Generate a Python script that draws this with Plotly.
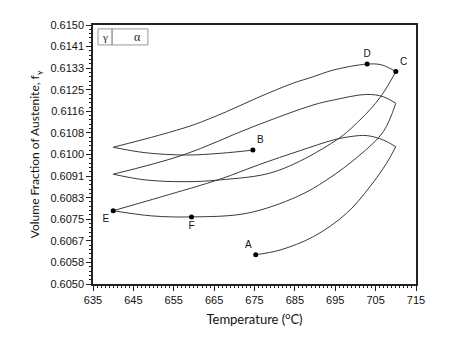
import plotly.graph_objects as go

# Branch data (temperature in C, volume fraction of austenite)
heat1_T = [675.3, 681.3, 689.6, 697.8, 703.6, 707.7, 710.0]
heat1_f = [0.60613, 0.60631, 0.60683, 0.60773, 0.60876, 0.60966, 0.61030]

cool1_T = [710.0, 706.9, 702.8, 698.7, 694.5, 686.3, 676.0, 666.5, 652.0, 640.0]
cool1_f = [0.61030, 0.61056, 0.61073, 0.61069, 0.61056, 0.61015, 0.60960, 0.60905, 0.60837, 0.60783]

heat2_T = [640.0, 649.5, 659.4, 673.1, 685.5, 692.9, 701.1, 706.9, 710.0]
heat2_f = [0.60783, 0.60763, 0.60759, 0.60773, 0.60837, 0.60902, 0.60998, 0.61088, 0.61198]

cool2_T = [710.0, 706.9, 702.8, 694.5, 689.5, 674.6, 657.3, 640.0]
cool2_f = [0.61198, 0.61223, 0.61232, 0.61210, 0.61191, 0.61107, 0.60998, 0.60924]

heat3_T = [640.0, 647.9, 657.8, 666.5, 680.1, 695.3, 701.1, 706.1, 710.0]
heat3_f = [0.60924, 0.60902, 0.60895, 0.60902, 0.60934, 0.61056, 0.61133, 0.61220, 0.61320]

cool3_T = [710.0, 706.5, 702.9, 694.5, 689.5, 684.5, 676.3, 668.0, 659.8, 651.5, 640.0]
cool3_f = [0.61320, 0.61346, 0.61349, 0.61326, 0.61300, 0.61275, 0.61223, 0.61165, 0.61114, 0.61075, 0.61028]

heat4_T = [640.0, 647.9, 658.1, 666.9, 674.6]
heat4_f = [0.61028, 0.61007, 0.60998, 0.61005, 0.61017]

point_names = ["A", "B", "C", "D", "E", "F"]
point_T = [675.3, 674.6, 710.0, 702.9, 640.0, 659.4]
point_f = [0.60613, 0.61017, 0.61320, 0.61349, 0.60783, 0.60759]
point_textpos = ["top left", "top right", "top right", "top center", "bottom left", "bottom center"]

x_ticks = [635, 645, 655, 665, 675, 685, 695, 705, 715]
y_tick_labels = ["0.6050", "0.6058", "0.6067", "0.6075", "0.6083", "0.6091", "0.6100",
                 "0.6108", "0.6116", "0.6125", "0.6133", "0.6141", "0.6150"]
y_min, y_max = 0.605, 0.615
y_step = (y_max - y_min) / (len(y_tick_labels) - 1)
y_tickvals = [y_min + i * y_step for i in range(len(y_tick_labels))]

line_color = "#3a3a3a"
fig = go.Figure()
for T, f in [(heat1_T, heat1_f), (cool1_T, cool1_f), (heat2_T, heat2_f), (cool2_T, cool2_f),
             (heat3_T, heat3_f), (cool3_T, cool3_f), (heat4_T, heat4_f)]:
    fig.add_trace(go.Scatter(x=T, y=f, mode="lines",
                             line=dict(color=line_color, width=1, shape="spline", smoothing=1.0),
                             showlegend=False, hoverinfo="skip"))

fig.add_trace(go.Scatter(x=point_T, y=point_f, mode="markers+text", text=point_names,
                         textposition=point_textpos,
                         textfont=dict(family="Liberation Sans, Arial", size=10, color="#111"),
                         marker=dict(color="black", size=5), showlegend=False, hoverinfo="skip"))

axis_common = dict(showline=True, linecolor="#222", linewidth=1.5, mirror=True,
                   ticks="outside", ticklen=5, tickwidth=1, tickcolor="#222",
                   showgrid=False, zeroline=False,
                   tickfont=dict(family="Liberation Sans, Arial", size=11, color="#111"))

fig.update_xaxes(range=[635, 715], tickvals=x_ticks,
                 minor=dict(ticks="outside", ticklen=2.5, dtick=1, tick0=635, tickcolor="#222"),
                 title=dict(text="Temperature (<sup>o</sup>C)",
                            font=dict(family="Lato, Open Sans", size=13, color="#111"), standoff=10),
                 **axis_common)
fig.update_yaxes(range=[y_min, y_max], tickvals=y_tickvals, ticktext=y_tick_labels,
                 minor=dict(ticks="outside", ticklen=2.5, dtick=y_step / 5, tick0=y_min, tickcolor="#222"),
                 title=dict(text="Volume Fraction of Austenite, f<sub>γ</sub>",
                            font=dict(family="Lato, Open Sans", size=12, color="#111"), standoff=8),
                 **axis_common)

# gamma | alpha box
fig.add_shape(type="rect", xref="paper", yref="paper", x0=0.0155, x1=0.170, y0=0.923, y1=0.985,
              line=dict(color="#999", width=1))
fig.add_shape(type="line", xref="paper", yref="paper", x0=0.059, x1=0.059, y0=0.923, y1=0.985,
              line=dict(color="#666", width=1))
fig.add_annotation(xref="paper", yref="paper", x=0.037, y=0.954, xanchor="center", yanchor="middle",
                   text="γ", showarrow=False,
                   font=dict(family="Liberation Serif", size=11, color="#222"))
fig.add_annotation(xref="paper", yref="paper", x=0.139, y=0.954, xanchor="center", yanchor="middle",
                   text="α", showarrow=False,
                   font=dict(family="Liberation Serif", size=12, color="#222"))

fig.update_layout(width=450, height=346, margin=dict(l=93, r=34, t=25, b=62),
                  plot_bgcolor="white", paper_bgcolor="white")
fig.write_html("out.html")
